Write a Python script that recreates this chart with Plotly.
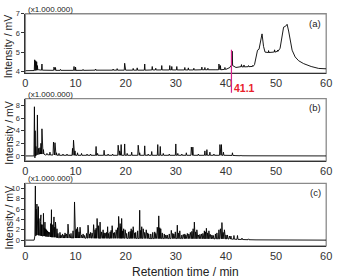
import plotly.graph_objects as go

# ---------------- DATA ----------------
x_ticks = [0, 10, 20, 30, 40, 50, 60]
marker_time = 41.1
marker_label = "41.1"
scale_label = "(x1.000.000)"
y_title = "Intensity / mV"
x_title = "Retention time / min"
panel_labels = ["(a)", "(b)", "(c)"]

# Panel (a): slowly varying baseline / humps (time, intensity x1e6 mV)
a_base_t = [0, 1.7, 2.6, 4, 10, 20, 30, 38, 40, 40.8, 41.0, 41.6, 42, 43, 45, 45.7, 46.0, 46.3, 46.6,
            46.9, 47.2, 47.5, 47.8, 48.5, 49.5, 50.3, 50.8, 51.2, 51.5, 51.9, 52.2, 52.5, 52.8, 53.2,
            53.8, 54.5, 55.5, 57, 58.5, 59.5, 60]
a_base_v = [4.03, 4.03, 4.08, 4.05, 4.05, 4.06, 4.07, 4.08, 4.1, 4.2, 4.3, 4.25, 4.2, 4.24, 4.25, 4.35,
            4.8, 5.1, 5.15, 5.5, 5.95, 5.3, 5.0, 4.98, 5.0, 5.05, 5.2, 5.9, 6.3, 6.35, 6.45, 6.1, 5.6,
            5.1, 4.75, 4.55, 4.4, 4.25, 4.15, 4.12, 4.13]
# Panel (a) peaks: time, apex, base
a_pk_t = [1.85, 2.05, 2.25, 2.4, 3.3, 5.7, 6.0, 7.0, 9.7, 10.0, 11.5, 14.0, 16.0, 17.5, 18.3, 19.8,
          21.5, 22.3, 23.8, 25.3, 26.0, 27.2, 28.8, 29.2, 30.2, 31.8, 32.5, 33.6, 35.2, 35.8, 36.4,
          38.6, 38.9, 39.8, 41.25, 43.1, 43.6, 44.5, 45.3, 48.5, 49.7, 50.3]
a_pk_h = [4.6, 4.55, 4.5, 4.3, 4.38, 4.22, 4.2, 4.1, 4.25, 4.22, 4.1, 4.12, 4.08, 4.12, 4.14, 4.42,
          4.15, 4.18, 4.38, 4.25, 4.16, 4.3, 4.3, 4.25, 4.25, 4.2, 4.18, 4.16, 4.22, 4.2, 4.16,
          4.38, 4.3, 4.2, 5.05, 4.35, 4.33, 4.3, 4.3, 5.08, 5.12, 5.1]
a_pk_b = [4.04, 4.05, 4.06, 4.07, 4.06, 4.05, 4.05, 4.05, 4.05, 4.05, 4.05, 4.06, 4.06, 4.06, 4.06,
          4.06, 4.06, 4.06, 4.06, 4.07, 4.07, 4.07, 4.07, 4.07, 4.07, 4.07, 4.07, 4.07, 4.08, 4.08,
          4.08, 4.08, 4.08, 4.1, 4.3, 4.23, 4.23, 4.24, 4.25, 4.98, 5.0, 5.04]

# Panel (b)
b_base_t = [0, 1.7, 1.9, 2.2, 3.0, 4.0, 7.0, 20, 40, 42, 45, 60]
b_base_v = [0, 0, -0.3, 0.2, 0.3, 0.15, 0.1, 0.08, 0.1, 0.05, 0.02, 0]
b_pk_t = [1.8, 1.95, 2.1, 2.4, 2.6, 2.9, 3.1, 3.3, 3.6, 4.3, 4.9, 5.6, 5.9, 6.2, 6.7, 7.5, 8.3, 9.4,
          9.6, 9.9, 10.4, 11.2, 12.3, 13.0, 14.1, 14.4, 15.7, 16.5, 17.4, 18.5, 18.8, 19.1, 19.8,
          20.3, 21.2, 22.5, 22.8, 23.8, 24.5, 25.2, 26.4, 26.9, 27.5, 28.7, 30.0, 30.4, 31.2, 32.1,
          33.1, 33.4, 34.5, 35.8, 36.2, 36.8, 37.6, 38.8, 39.1, 39.5, 41.3, 43.0]
b_pk_h = [7.8, 4.0, 1.5, 6.5, 1.2, 1.3, 2.0, 4.3, 1.0, 0.4, 0.6, 2.2, 2.1, 0.5, 0.4, 0.3, 0.3, 1.2,
          2.5, 0.8, 0.5, 0.4, 0.3, 0.3, 1.5, 0.4, 0.9, 0.3, 0.3, 1.7, 0.8, 1.8, 1.9, 0.4, 0.6, 1.7,
          0.5, 1.6, 0.3, 0.7, 1.8, 1.5, 0.4, 0.3, 1.9, 0.4, 0.3, 0.5, 1.4, 1.4, 0.3, 0.8, 1.0, 0.6,
          0.3, 1.8, 1.8, 0.6, 0.5, 0.15]
b_pk_b = [0.0, 0.0, 0.1, 0.2, 0.25, 0.3, 0.3, 0.3, 0.3, 0.2, 0.15, 0.15, 0.15, 0.12, 0.1, 0.1, 0.1,
          0.1, 0.1, 0.1, 0.1, 0.1, 0.1, 0.1, 0.1, 0.1, 0.1, 0.1, 0.1, 0.1, 0.1, 0.1, 0.1, 0.1, 0.1,
          0.1, 0.1, 0.1, 0.1, 0.1, 0.1, 0.1, 0.1, 0.1, 0.1, 0.1, 0.1, 0.1, 0.1, 0.1, 0.1, 0.1, 0.1,
          0.1, 0.1, 0.1, 0.1, 0.1, 0.08, 0.03]

# Panel (c)
c_base_t = [0, 1.75, 1.9, 2.5, 3.5, 5, 7, 10, 15, 20, 25, 30, 35, 40, 42, 44, 46, 50, 60]
c_base_v = [0, 0, 0.8, 1.0, 0.8, 0.6, 0.4, 0.4, 0.35, 0.35, 0.3, 0.3, 0.25, 0.25, 0.15, 0.1, 0.05, 0.02, 0]
c_pk_t = [1.99, 2.15, 2.3, 2.45, 2.6, 2.8, 3.1, 3.35, 3.6, 3.9, 4.2, 4.6, 5.2, 5.45, 5.7, 6.0, 6.3,
          6.9, 7.4, 7.9, 8.5, 9.1, 9.8, 10.1, 10.4, 10.9, 11.5, 12.5, 13.0, 13.6, 14.3, 14.6, 14.9,
          15.5, 15.9, 16.4, 16.9, 17.3, 17.8, 18.6, 18.9, 19.2, 19.6, 19.9, 20.6, 21.1, 21.5, 22.0,
          22.8, 23.2, 23.5, 24.1, 24.6, 25.4, 26.0, 26.6, 27.0, 27.7, 28.3, 29.1, 29.6, 30.3, 30.8,
          31.5, 32.0, 32.6, 33.2, 33.7, 34.2, 34.8, 35.4, 36.1, 36.6, 37.2, 37.9, 38.6, 39.2, 39.7,
          40.3, 41.0, 41.6, 42.3, 43.2, 44.5,
          # smaller unresolved peaks filling the crowded region
          2.7, 3.0, 3.2, 3.45, 3.75, 4.05, 4.4, 4.8, 5.05, 5.3, 5.55, 5.85, 6.15, 6.5, 7.1, 7.7,
          8.2, 8.8, 9.5, 10.25, 10.7, 11.2, 11.8, 12.2, 12.8, 13.3, 13.9, 14.1, 14.45, 15.2,
          15.7, 16.2, 16.6, 17.1, 17.6, 18.1, 18.4, 18.75, 19.05, 19.4, 20.2, 20.9, 21.3, 21.8,
          22.4, 23.0, 23.8, 24.4, 25.0, 25.8, 26.3, 26.8, 27.3, 28.0, 28.7, 29.4, 29.9, 30.5,
          31.2, 31.8, 32.3, 32.9, 33.45, 33.95, 34.5, 35.1, 35.7, 35.9, 36.35, 36.9, 37.5, 38.2,
          38.9, 39.45, 40.0, 40.7]
c_pk_h = [10.5, 6.0, 7.0, 5.5, 6.5, 4.0, 4.9, 3.0, 5.2, 3.5, 2.0, 1.6, 5.9, 3.0, 4.5, 3.5, 2.2,
          1.5, 1.2, 1.4, 3.1, 1.3, 7.4, 2.0, 2.5, 2.5, 1.2, 2.9, 1.5, 3.0, 4.2, 2.8, 3.5, 2.0, 1.4,
          2.6, 1.6, 2.8, 1.5, 4.6, 3.2, 4.2, 2.2, 2.0, 1.6, 2.2, 2.6, 1.5, 5.8, 2.6, 2.2, 2.0, 1.2,
          1.5, 1.3, 4.7, 2.2, 1.2, 1.0, 1.9, 1.2, 2.9, 1.8, 1.1, 1.0, 1.2, 1.7, 3.5, 2.0, 1.1, 1.3,
          2.3, 1.8, 1.0, 1.2, 2.0, 3.4, 2.0, 1.0, 0.8, 0.9, 0.9, 0.4, 0.25,
          4.2, 3.6, 3.0, 2.6, 2.4, 2.2, 1.8, 1.5, 3.2, 3.6, 2.8, 2.5, 1.9, 1.3, 1.0, 1.0,
          1.2, 1.1, 1.8, 2.2, 1.6, 1.0, 0.9, 1.3, 1.2, 1.4, 2.0, 2.3, 2.4, 1.6,
          1.4, 1.5, 1.3, 1.9, 1.4, 2.0, 2.4, 2.5, 2.6, 1.8, 1.3, 1.7, 1.9, 1.4,
          1.8, 1.9, 1.5, 1.4, 1.2, 1.6, 2.5, 2.4, 1.4, 1.0, 1.2, 1.3, 1.6, 1.4,
          1.0, 1.2, 1.3, 1.5, 2.2, 1.6, 1.0, 1.2, 1.8, 1.6, 1.4, 1.1, 0.9, 1.4,
          2.2, 1.5, 1.0, 0.8]
c_pk_b = [0.8, 1.0, 1.0, 1.0, 1.0, 0.9, 0.9, 0.8, 0.8, 0.8, 0.7, 0.65, 0.6, 0.6, 0.6, 0.55, 0.5,
          0.45, 0.4, 0.4, 0.4, 0.4, 0.4, 0.4, 0.4, 0.4, 0.4, 0.38, 0.38, 0.36, 0.36, 0.36, 0.35,
          0.35, 0.35, 0.35, 0.35, 0.35, 0.35, 0.35, 0.35, 0.35, 0.35, 0.35, 0.33, 0.33, 0.33, 0.33,
          0.32, 0.32, 0.32, 0.31, 0.31, 0.3, 0.3, 0.3, 0.3, 0.3, 0.3, 0.3, 0.3, 0.3, 0.3, 0.28,
          0.28, 0.28, 0.28, 0.28, 0.27, 0.27, 0.26, 0.26, 0.26, 0.25, 0.25, 0.25, 0.25, 0.25, 0.24,
          0.2, 0.18, 0.15, 0.12, 0.08,
          1.0, 0.9, 0.9, 0.8, 0.8, 0.75, 0.7, 0.65, 0.6, 0.6, 0.6, 0.55, 0.5, 0.45, 0.4, 0.4,
          0.4, 0.4, 0.4, 0.4, 0.4, 0.4, 0.38, 0.38, 0.38, 0.36, 0.36, 0.36, 0.36, 0.35,
          0.35, 0.35, 0.35, 0.35, 0.35, 0.35, 0.35, 0.35, 0.35, 0.35, 0.34, 0.33, 0.33, 0.33,
          0.32, 0.32, 0.31, 0.31, 0.3, 0.3, 0.3, 0.3, 0.3, 0.3, 0.3, 0.3, 0.3, 0.3,
          0.29, 0.28, 0.28, 0.28, 0.28, 0.27, 0.27, 0.26, 0.26, 0.26, 0.26, 0.25, 0.25, 0.25,
          0.25, 0.25, 0.24, 0.22]

y_ranges = [[3.9, 7.0], [-0.8, 9.1], [-1.1, 11.0]]
y_tickvals = [[4, 5, 6, 7], [0, 2, 4, 6, 8], [0, 2, 4, 6, 8, 10]]


def build_trace(bt, bv, pt, ph, pb, w):
    pts = list(zip(bt, bv))
    for t, h, b in zip(pt, ph, pb):
        pts += [(t - w, b), (t, h), (t + w, b)]
    pts.sort(key=lambda p: p[0])
    return [p[0] for p in pts], [p[1] for p in pts]


traces = [
    build_trace(a_base_t, a_base_v, a_pk_t, a_pk_h, a_pk_b, 0.08),
    build_trace(b_base_t, b_base_v, b_pk_t, b_pk_h, b_pk_b, 0.09),
    build_trace(c_base_t, c_base_v, c_pk_t, c_pk_h, c_pk_b, 0.1),
]

# ---------------- LAYOUT ----------------
W, H = 340, 280
x_dom = [23 / W, 332 / W]
y_doms = [[1 - 71 / H, 1 - 10 / H], [1 - 161 / H, 1 - 97 / H], [1 - 248 / H, 1 - 184 / H]]
font_family = "Liberation Sans, Arial, sans-serif"
txt_col = "#222"

fig = go.Figure()
layout = dict(width=W, height=H, margin=dict(l=0, r=0, t=0, b=0),
              paper_bgcolor="white", plot_bgcolor="white", showlegend=False,
              font=dict(family=font_family, color=txt_col))
annotations = []
shapes = []
for i, (tx, ty) in enumerate(traces):
    n = i + 1
    xa = "x" if n == 1 else f"x{n}"
    ya = "y" if n == 1 else f"y{n}"
    fig.add_trace(go.Scatter(x=tx, y=ty, mode="lines", line=dict(color="black", width=0.9),
                             xaxis=xa, yaxis=ya, hoverinfo="skip"))
    layout[f"xaxis{'' if n == 1 else n}"] = dict(
        domain=x_dom, anchor=ya, range=[0, 60], tickvals=x_ticks, showgrid=False, zeroline=False,
        showline=True, linecolor="#333", linewidth=1, ticks="", tickfont=dict(size=11, color="#333"))
    layout[f"yaxis{'' if n == 1 else n}"] = dict(
        domain=y_doms[i], anchor=xa, range=y_ranges[i], tickvals=y_tickvals[i], showgrid=False,
        zeroline=False, showline=True, linecolor="#333", linewidth=1, ticks="outside", ticklen=3,
        tickcolor="#333", tickfont=dict(size=7.5, color="#333"))
    shapes.append(dict(type="rect", xref=f"{xa} domain", yref=f"{ya} domain", x0=0, x1=1, y0=0, y1=1,
                       line=dict(color="#8a8a8a", width=1.3), layer="below"))
    annotations.append(dict(text=panel_labels[i], xref=f"{xa} domain", yref=f"{ya} domain", x=0.99, y=0.97,
                            xanchor="right", yanchor="top", showarrow=False, font=dict(size=9.5, color=txt_col)))
    annotations.append(dict(text=scale_label, xref=f"{xa} domain", yref=f"{ya} domain", x=0.005, y=1.0,
                            xanchor="left", yanchor="bottom", yshift=-1, borderpad=0, showarrow=False,
                            font=dict(size=8, color=txt_col)))
    annotations.append(dict(text=y_title, xref="paper", yref=f"{ya} domain", x=6 / W, y=0.45,
                            xanchor="center", yanchor="middle", textangle=-90, showarrow=False,
                            font=dict(size=10.5, color=txt_col)))

annotations.append(dict(text=x_title, xref="paper", yref="paper", x=0.55, y=5 / H, xanchor="center",
                        yanchor="middle", showarrow=False, font=dict(size=12, color=txt_col)))
annotations.append(dict(text=f"<b>{marker_label}</b>", xref="x", yref="paper", x=marker_time, y=1 - 86 / H,
                        xanchor="left", yanchor="middle", xshift=1, showarrow=False,
                        font=dict(size=10.5, color="#e8202a")))
shapes.append(dict(type="line", xref="x", yref="paper", x0=marker_time, x1=marker_time,
                   y0=1 - 91 / H, y1=1 - 47 / H, line=dict(color="#d4258c", width=1.2)))

layout["annotations"] = annotations
layout["shapes"] = shapes
fig.update_layout(**layout)
fig.write_html("out.html")
